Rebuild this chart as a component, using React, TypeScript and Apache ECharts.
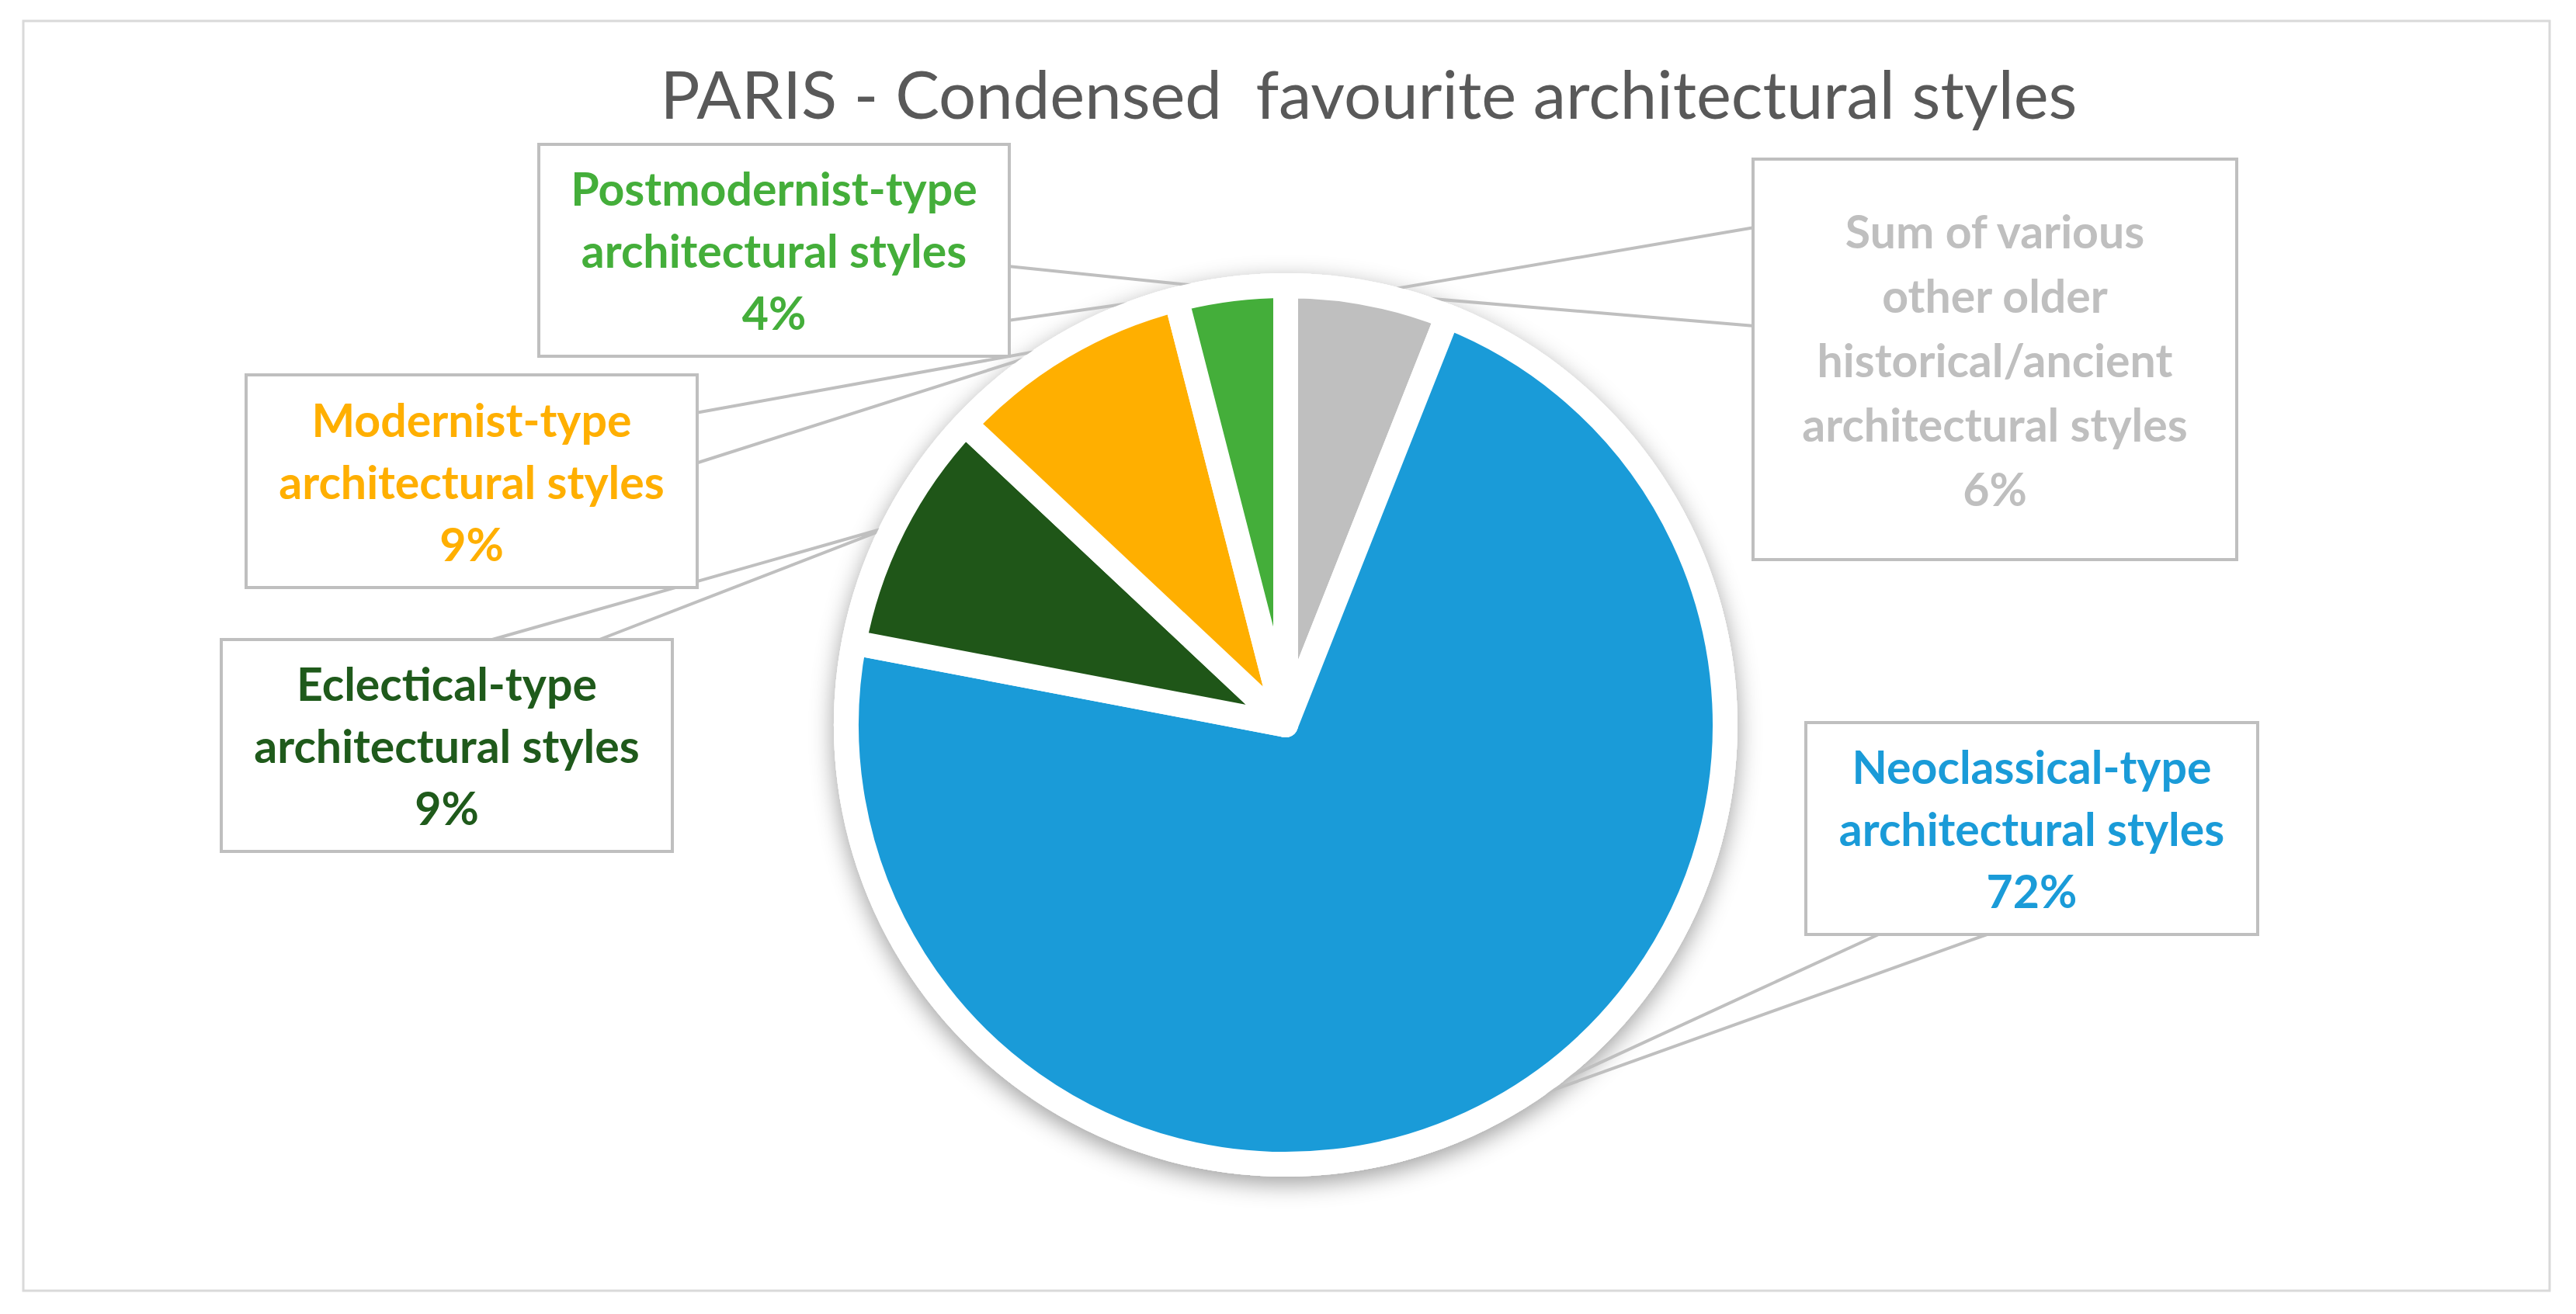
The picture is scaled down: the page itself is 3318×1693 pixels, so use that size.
import React, { useEffect, useRef } from "react";
import * as echarts from "echarts";

// ---- data ----
const categories = [
  "Sum of various\nother older\nhistorical/ancient\narchitectural styles",
  "Neoclassical-type\narchitectural styles",
  "Eclectical-type\narchitectural styles",
  "Modernist-type\narchitectural styles",
  "Postmodernist-type\narchitectural styles",
];
const shares = [6, 72, 9, 9, 4];
const sliceColors = ["#BFBFBF", "#1A9BD8", "#1F5618", "#FFAF00", "#44AE3A"];
const labelColors = ["#BFBFBF", "#1A9BD8", "#1F5A1B", "#FFAF00", "#44AE3A"];
const chartTitle = "PARIS - Condensed  favourite architectural styles";

// ---- layout of callout boxes (pixels) ----
const callouts = [
  { x: 2260, y: 207, w: 619, h: 512, lh: 83, a: [2260, 293], b: [2260, 420] },
  { x: 2328, y: 933, w: 578, h: 269, lh: 80, a: [2424, 1202], b: [2565, 1202] },
  { x: 287, y: 826, w: 577, h: 269, lh: 80, a: [627, 826], b: [767, 826] },
  { x: 319, y: 485, w: 577, h: 270, lh: 80, a: [896, 532], b: [896, 597] },
  { x: 696, y: 188, w: 602, h: 269, lh: 80, a: [1298, 343], b: [1298, 413] },
];

const W = 3318;
const H = 1693;
const CX = 1656;
const CY = 934;
const R = 566;
const GRAY = "#BFBFBF";
const FONT = "Lato, 'Open Sans', sans-serif";

export default function App() {
  const ref = useRef<HTMLDivElement>(null);
  useEffect(() => {
    document.body.style.margin = "0";
    if (!ref.current) return;
    const chart = echarts.init(ref.current, undefined, { renderer: "svg" });

    const data = categories.map((name, i) => {
      const c = callouts[i];
      const lines = name.split("\n").length + 1;
      const padV = Math.max(0, (c.h - lines * c.lh) / 2);
      return {
        name,
        value: shares[i],
        itemStyle: { color: sliceColors[i] },
        label: {
          color: labelColors[i],
          width: c.w,
          lineHeight: c.lh,
          padding: [padV, 0, padV, 0],
        },
      };
    });

    chart.setOption({
      animation: false,
      backgroundColor: "#FFFFFF",
      graphic: [
        {
          type: "rect",
          z: -10,
          shape: { x: 30, y: 27, width: 3254, height: 1636 },
          style: { fill: "#FFFFFF", stroke: "#D9D9D9", lineWidth: 3 },
        },
        {
          type: "text",
          x: 1763,
          y: 120,
          style: {
            text: chartTitle,
            textAlign: "center",
            textVerticalAlign: "middle",
            fill: "#595959",
            fontFamily: FONT,
            fontSize: 85,
            fontWeight: "normal",
          },
        },
      ],
      series: [
        {
          type: "pie",
          silent: true,
          center: [CX, CY],
          radius: R + 16,
          z: 1,
          label: { show: false },
          labelLine: { show: false },
          itemStyle: {
            color: "#FFFFFF",
            shadowBlur: 30,
            shadowColor: "rgba(0,0,0,0.38)",
            shadowOffsetY: 9,
          },
          data: [{ value: 1, name: "bg" }],
        },
        {
          type: "pie",
          center: [CX, CY],
          radius: R,
          startAngle: 90,
          clockwise: true,
          z: 2,
          avoidLabelOverlap: false,
          itemStyle: {
            borderColor: "#FFFFFF",
            borderWidth: 32,
            borderJoin: "round",
          },
          label: {
            show: true,
            position: "outside",
            formatter: "{b}\n{d}%",
            fontFamily: FONT,
            fontSize: 59,
            fontWeight: "bold",
            align: "center",
            backgroundColor: "#FFFFFF",
            borderColor: GRAY,
            borderWidth: 4,
            overflow: "none",
          },
          labelLine: {
            show: true,
            lineStyle: { color: GRAY, width: 4 },
          },
          labelLayout: (params: any) => {
            const c = callouts[params.dataIndex];
            const tip = params.labelLinePoints ? params.labelLinePoints[0] : null;
            const out: any = {
              x: c.x + c.w / 2,
              y: c.y + c.h / 2,
              align: "center",
              verticalAlign: "middle",
            };
            if (tip) out.labelLinePoints = [c.a, tip, c.b];
            return out;
          },
          data,
        },
      ],
    });
    return () => chart.dispose();
  }, []);
  return <div ref={ref} style={{ width: W, height: H }} />;
}
